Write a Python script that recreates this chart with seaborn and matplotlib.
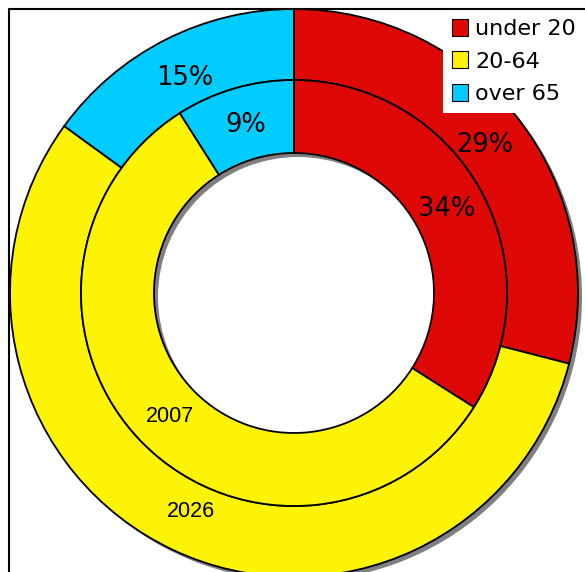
import matplotlib
matplotlib.use("Agg")
import matplotlib.pyplot as plt
from matplotlib.patches import Patch, Wedge
import seaborn as sns


groups = ["under 20", "20-64", "over 65"]
share_2026 = [29, 56, 15]
share_2007 = [34, 57, 9]
years = ["2026", "2007"]
colors = ["#DE0806", "#FCF305", "#00CCFF"]


def make_autopct(year):
    def fmt(p):
        if p > 50:
            return year
        return f"{p:.0f}%"
    return fmt


def plot_graphs():
    sns.set_theme(style="white")
    plt.rcParams['font.family'] = ['DejaVu Sans']
    plt.rcParams['text.color'] = 'black'

    fig = plt.figure(figsize=(5.85, 5.72), dpi=100)
    ax = fig.add_axes([0, 0, 1, 1])

    center = (294, 279)
    r_out, r_mid, r_in = 284, 213, 140
    edge = dict(edgecolor="black", linewidth=1.3)

    # drop shadow behind the rings
    shadow = Wedge((center[0] + 4, center[1] - 4), r_out, 0, 360,
                   width=r_out - r_in, facecolor="#808080", edgecolor="none",
                   zorder=0)
    ax.add_patch(shadow)

    rings = [
        (share_2026, years[0], r_out, r_out - r_mid, 0.85),
        (share_2007, years[1], r_mid, r_mid - r_in, 0.82),
    ]
    for values, year, radius, width, pdist in rings:
        wedges, texts, autotexts = ax.pie(
            values,
            colors=colors,
            startangle=90,
            counterclock=False,
            radius=radius,
            center=center,
            frame=True,
            autopct=make_autopct(year),
            pctdistance=pdist,
            wedgeprops=dict(width=width, **edge),
            textprops=dict(fontsize=18.5, color="black"),
        )
        for t in autotexts:
            if t.get_text() == year:
                t.set_fontfamily("Liberation Sans")
                t.set_fontsize(15.5)

    ax.set_xlim(0, 585)
    ax.set_ylim(0, 572)
    ax.set_aspect("equal")
    ax.axis("off")

    ax.axvline(9, ymax=563 / 572, color="black", linewidth=1.5, zorder=5)
    ax.axhline(563, xmin=9 / 585, color="black", linewidth=1.5, zorder=5)

    handles = [Patch(facecolor=c, edgecolor="black", linewidth=0.8) for c in colors]
    leg = fig.legend(
        handles, groups,
        loc="upper right",
        bbox_to_anchor=(1.0, 1 - 10 / 572),
        fontsize=16,
        frameon=True,
        fancybox=False,
        borderaxespad=0,
        borderpad=0.4,
        labelspacing=0.55,
        handlelength=0.7,
        handleheight=0.8,
        handletextpad=0.35,
    )
    leg.get_frame().set_edgecolor("none")
    leg.get_frame().set_facecolor("white")
    leg.get_frame().set_alpha(1)
    leg.set_zorder(10)
    for t in leg.get_texts():
        t.set_color("black")

    plt.savefig("out.png", dpi=100)
    plt.close()


if __name__ == "__main__":
    plot_graphs()
